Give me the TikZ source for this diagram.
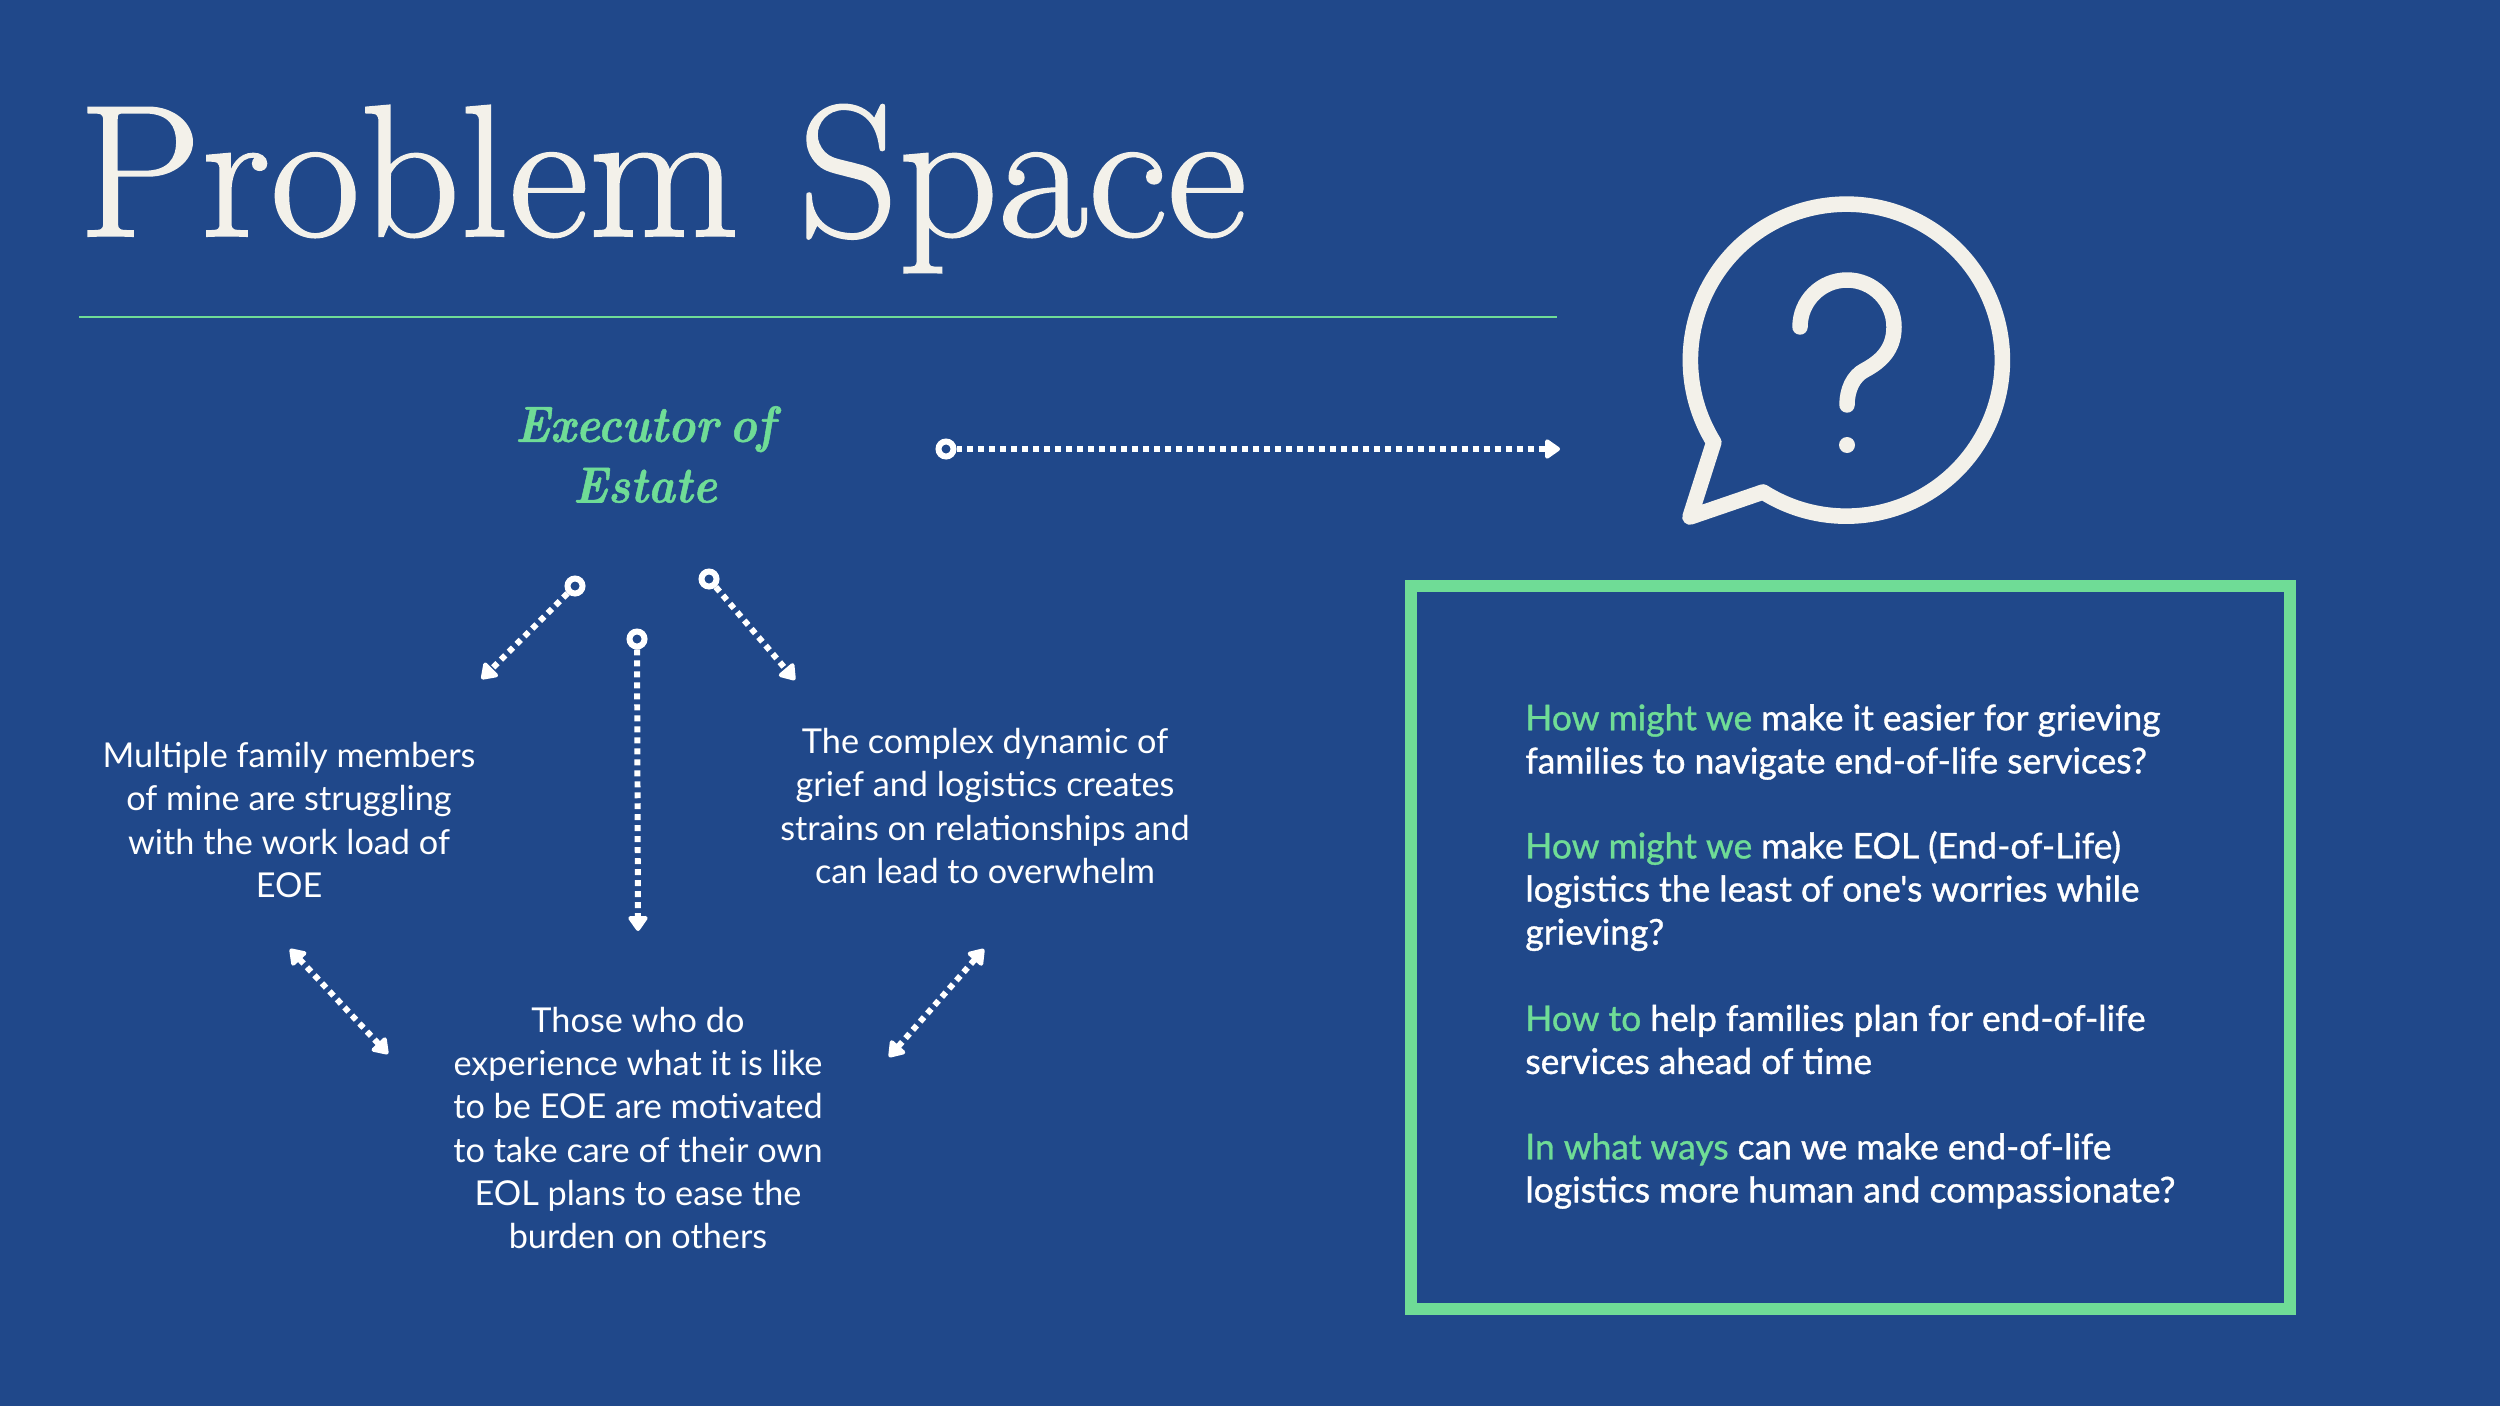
\documentclass[tikz,border=0pt]{standalone}
\usepackage{fontspec}
\setmainfont{Lato}
\usepackage{tikz}
\usetikzlibrary{arrows.meta}
\newfontfamily\titlefont[FakeBold=1.1, FakeStretch=1.04]{Latin Modern Roman}
\newfontfamily\rolefont[FakeStretch=0.9, FakeBold=1, WordSpace=0.6]{Latin Modern Roman}
\newfontfamily\hmwfont[FakeBold=1]{Lato}
\definecolor{slidebg}{HTML}{20488A}
\definecolor{mint}{HTML}{6FDC96}
\definecolor{cream}{HTML}{F3F1EA}
\tikzstyle{maintitle} = [anchor=base west, inner sep=0pt, text=cream,
    font=\titlefont\fontsize{107}{107}\selectfont]
\tikzstyle{roletext} = [align=center, inner sep=0pt, text=mint,
    font=\rolefont\bfseries\itshape\fontsize{29}{34.5}\selectfont]
\tikzstyle{body} = [align=center, inner sep=0pt, text=white,
    font=\fontsize{19.5}{24.5}\selectfont]
\tikzstyle{hmw} = [align=left, anchor=west, inner sep=0pt, text=white,
    font=\hmwfont\fontsize{20.15}{24.5}\selectfont]
\tikzstyle{dot} = [circle, draw=white, line width=3.4pt, inner sep=0pt, minimum size=0.3cm]
\tikzstyle{arrow} = [line width=3.4pt, white, dash pattern=on 3.4pt off 2.85pt,
    -{Triangle[length=9.5pt, width=12.5pt, round]}]
\tikzstyle{biarrow} = [arrow, {Triangle[length=9.5pt, width=12.5pt, round]}-{Triangle[length=9.5pt, width=12.5pt, round]}]
\begin{document}
\begin{tikzpicture}
    \fill [slidebg] (0,0) rectangle (50,-28.12);
    \node (title) [maintitle] at (1.56,-4.72) {Problem Space};
    \draw [mint, line width=1.2pt] (1.58,-6.34) -- (31.14,-6.34);

    \node (role) [roletext] at (12.9,-9.09) {Executor of\\Estate};
    \node (family) [body, below of=role, xshift=-7.12cm, yshift=-6.31cm] {Multiple family members\\of mine are struggling\\with the work load of\\EOE};
    \node (strain) [body, below of=role, xshift=6.8cm, yshift=-6.03cm] {The complex dynamic of\\grief and logistics creates\\strains on relationships and\\can lead to overwhelm};
    \node (plans) [body, below of=role, xshift=-0.14cm, yshift=-12.47cm] {Those who do\\experience what it is like\\to be EOE are motivated\\to take care of their own\\EOL plans to ease the\\burden on others};

    % open ends of the dotted arrows
    \node (dot_question) [dot] at (18.92,-8.98) {};
    \node (dot_family) [dot] at (11.5,-11.72) {};
    \node (dot_plans) [dot] at (12.74,-12.78) {};
    \node (dot_strain) [dot] at (14.18,-11.58) {};
    \coordinate (end_question) at (31.2,-8.98);
    \coordinate (end_family) at (9.63,-13.58);
    \coordinate (end_plans) at (12.76,-18.62);
    \coordinate (end_strain) at (15.9,-13.6);
    \coordinate (left_top) at (5.8,-18.98);
    \coordinate (left_bot) at (7.76,-21.08);
    \coordinate (right_top) at (19.68,-18.98);
    \coordinate (right_bot) at (17.78,-21.14);

    \draw [arrow] (dot_question) -- (end_question);
    \draw [arrow] (dot_family) -- (end_family);
    \draw [arrow] (dot_plans) -- (end_plans);
    \draw [arrow] (dot_strain) -- (end_strain);
    \draw [biarrow] (left_top) -- (left_bot);
    \draw [biarrow] (right_top) -- (right_bot);

    % speech bubble
    \draw [cream, line width=8.87pt, line join=round] (35.26,-9.84) arc[start angle=237.7, end angle=571.8, radius=3.12] -- (33.8,-10.34) -- cycle;
    \draw [cream, line width=8.8pt, line cap=round] (36,-6.54) arc[start angle=180, end angle=0, radius=0.94] .. controls (37.88,-7) and (37.6,-7.24) .. (37.3,-7.4) .. controls (37.06,-7.52) and (36.94,-7.8) .. (36.94,-8.1);
    \fill [cream] (36.94,-8.9) circle (0.16);

    \node (hmw_box) [draw=mint, line width=6.8pt, inner sep=0pt, minimum width=17.58cm, minimum height=14.46cm] at (37.01,-18.95) {};
    \node (hmw_one) [hmw] at (30.5,-14.84) {\textcolor{mint}{How might we} make it easier for grieving\\families to navigate end-of-life services?};
    \node (hmw_two) [hmw] at (30.5,-17.82) {\textcolor{mint}{How might we} make EOL (End-of-Life)\\logistics the least of one's worries while\\grieving?};
    \node (hmw_three) [hmw] at (30.5,-20.79) {\textcolor{mint}{How to} help families plan for end-of-life\\services ahead of time};
    \node (hmw_four) [hmw] at (30.5,-23.42) {\textcolor{mint}{In what ways} can we make end-of-life\\logistics more human and compassionate?};
\end{tikzpicture}
\end{document}
